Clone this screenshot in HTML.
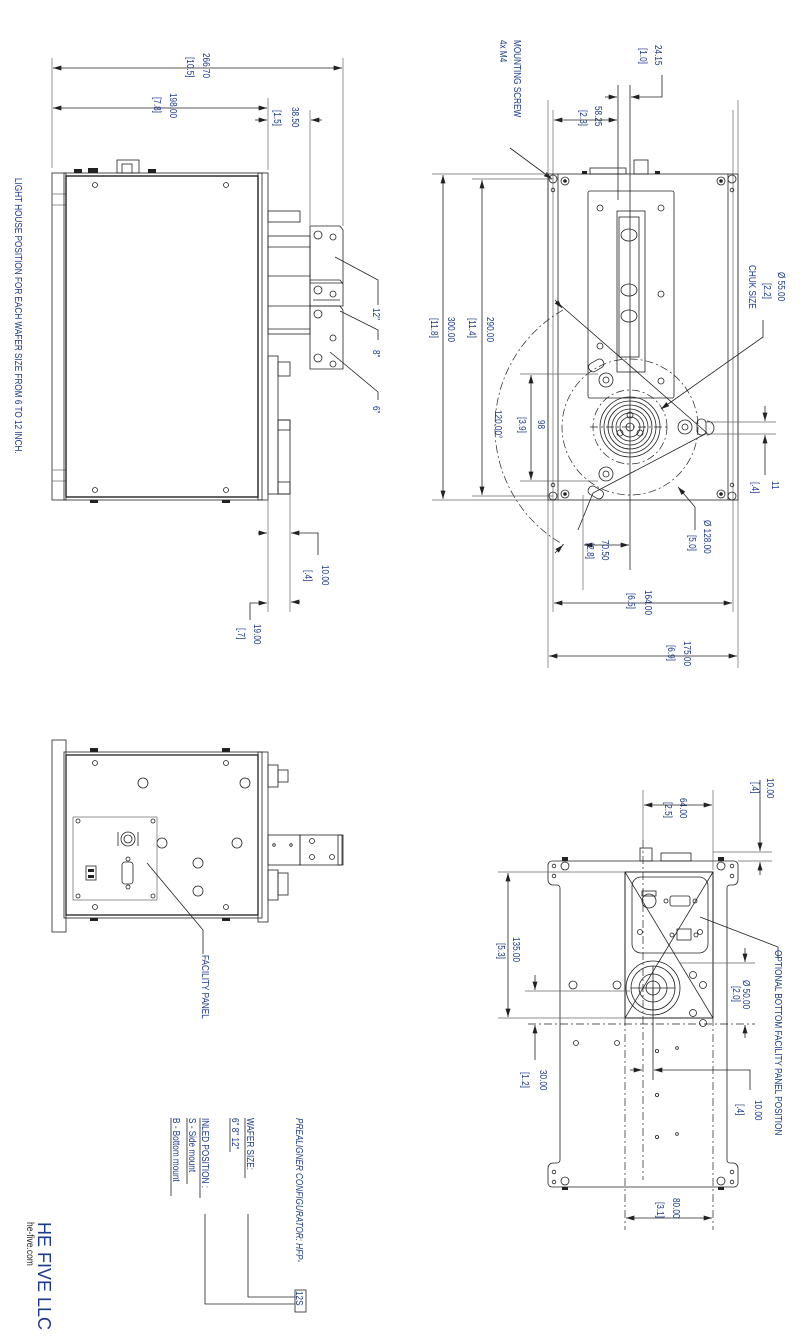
<!DOCTYPE html>
<html><head><meta charset="utf-8"><style>
html,body{margin:0;padding:0;background:#fff}
svg{display:block}
.l{stroke:#222;stroke-width:.8;fill:none}
.g{stroke:#666;stroke-width:.7;fill:none}
.d{stroke:#222;stroke-width:.7;fill:none;stroke-dasharray:8 3 2 3}
.k{fill:#222}
text{font-family:"Liberation Sans",sans-serif;font-size:10px;fill:#1b3a8a}
</style></head><body>
<svg width="809" height="1339" viewBox="0 0 809 1339" xmlns="http://www.w3.org/2000/svg">
<defs>
<marker id="a" viewBox="0 0 10 6" refX="10" refY="3" markerWidth="9" markerHeight="5" orient="auto-start-reverse" markerUnits="userSpaceOnUse"><path d="M0,0L10,3L0,6z" fill="#222"/></marker>
</defs>

<!-- ===== LEFT TOP VIEW ===== -->
<text transform="translate(15,178) rotate(90) scale(.82,1)">LIGHT HOUSE POSITION FOR EACH WAFER SIZE FROM 6 TO 12 INCH.</text>
<rect class="l" x="52" y="173" width="14" height="327"/>
<line class="g" x1="52" y1="194" x2="66" y2="194"/><line class="g" x1="52" y1="205" x2="66" y2="205"/>
<line class="g" x1="52" y1="470" x2="66" y2="470"/><line class="g" x1="52" y1="481" x2="66" y2="481"/>
<rect class="l" x="66" y="176" width="192" height="321" style="stroke-width:1.4"/>
<rect class="l" x="64" y="173" width="198" height="327"/>
<rect class="l" x="258" y="173" width="10" height="327"/>
<circle class="l" cx="95" cy="185" r="2.5"/><circle class="l" cx="226" cy="185" r="2.5"/>
<circle class="l" cx="95" cy="490" r="2.5"/><circle class="l" cx="226" cy="490" r="2.5"/>
<rect class="k" x="74" y="169" width="8" height="4"/><rect class="k" x="88" y="168" width="10" height="5"/><rect class="k" x="148" y="169" width="8" height="4"/>
<rect class="l" x="117" y="160" width="22" height="13"/><rect class="l" x="122" y="164" width="10" height="9"/>
<rect class="k" x="90" y="500" width="8" height="3"/><rect class="k" x="222" y="500" width="8" height="3"/>
<!-- light houses -->
<rect class="l" x="268" y="211" width="32" height="11"/>
<line class="l" x1="268" y1="247" x2="310" y2="247"/><line class="l" x1="268" y1="276" x2="310" y2="276"/>
<line class="l" x1="268" y1="306" x2="310" y2="306"/><line class="l" x1="268" y1="329" x2="310" y2="329"/>
<rect class="l" x="268" y="236" width="42" height="98"/>
<path class="l" d="M310,226H340L343,230V283H310Z"/>
<path class="l" d="M310,280H340L343,284V306H310Z"/>
<path class="l" d="M310,306H340L343,310V369H310Z"/>
<circle class="l" cx="318" cy="235" r="4"/><circle class="l" cx="333" cy="237" r="3"/>
<circle class="l" cx="318" cy="290" r="4"/><circle class="l" cx="333" cy="294" r="3"/>
<circle class="l" cx="318" cy="314" r="4"/><circle class="l" cx="333" cy="338" r="3"/>
<circle class="l" cx="333" cy="364" r="3"/><circle class="l" cx="318" cy="358" r="4"/>
<line class="l" x1="313" y1="300" x2="340" y2="300"/>
<polyline class="l" points="335,257 378,280 378,305"/>
<polyline class="l" points="340,311 378,330 378,340"/>
<polyline class="l" points="330,352 378,392 378,400"/>
<text transform="translate(373,308) rotate(90) scale(.82,1)">12"</text>
<text transform="translate(373,350) rotate(90) scale(.82,1)">8"</text>
<text transform="translate(373,406) rotate(90) scale(.82,1)">6"</text>
<rect class="l" x="268" y="356" width="10" height="138"/><rect class="l" x="278" y="362" width="12" height="14"/>
<rect class="l" x="278" y="420" width="12" height="74"/><rect class="l" x="278" y="420" width="12" height="10"/><rect class="l" x="278" y="482" width="12" height="12"/>
<!-- dims -->
<line class="g" x1="52" y1="58" x2="52" y2="168"/><line class="g" x1="343" y1="58" x2="343" y2="226"/>
<line class="l" x1="53" y1="68" x2="342" y2="68" marker-start="url(#a)" marker-end="url(#a)"/>
<text transform="translate(203,53) rotate(90) scale(.82,1)">266.70</text>
<text transform="translate(187,57) rotate(90) scale(.82,1)">[10.5]</text>
<line class="g" x1="268" y1="98" x2="268" y2="170"/>
<line class="l" x1="53" y1="108" x2="267" y2="108" marker-start="url(#a)" marker-end="url(#a)"/>
<text transform="translate(170,93) rotate(90) scale(.82,1)">198.00</text>
<text transform="translate(154,97) rotate(90) scale(.82,1)">[7.8]</text>
<line class="g" x1="310" y1="110" x2="310" y2="225"/>
<line class="l" x1="255" y1="120" x2="267" y2="120" marker-end="url(#a)"/>
<line class="l" x1="322" y1="120" x2="311" y2="120" marker-end="url(#a)"/>
<text transform="translate(292,107) rotate(90) scale(.82,1)">38.50</text>
<text transform="translate(274,110) rotate(90) scale(.82,1)">[1.5]</text>
<line class="g" x1="268" y1="500" x2="268" y2="612"/><line class="g" x1="290" y1="494" x2="290" y2="612"/>
<line class="l" x1="258" y1="533" x2="267" y2="533" marker-end="url(#a)"/>
<polyline class="l" points="318,555 318,533 291,533" marker-end="url(#a)"/>
<line class="l" x1="300" y1="602" x2="291" y2="602" marker-end="url(#a)"/>
<text transform="translate(322,565) rotate(90) scale(.82,1)">10.00</text>
<text transform="translate(305,570) rotate(90) scale(.82,1)">[.4]</text>
<polyline class="l" points="250,620 250,603 267,603" marker-end="url(#a)"/>
<text transform="translate(254,624) rotate(90) scale(.82,1)">19.00</text>
<text transform="translate(238,628) rotate(90) scale(.82,1)">[.7]</text>

<!-- ===== RIGHT TOP VIEW ===== -->
<text transform="translate(514,40) rotate(90) scale(.82,1)">MOUNTING SCREW</text>
<text transform="translate(500,40) rotate(90) scale(.82,1)">4x M4</text>
<line class="l" x1="510" y1="148" x2="552" y2="179" marker-end="url(#a)"/>
<line class="g" x1="548" y1="100" x2="548" y2="668"/><line class="g" x1="738" y1="100" x2="738" y2="668"/>
<line class="g" x1="553" y1="110" x2="553" y2="612"/><line class="g" x1="733" y1="110" x2="733" y2="612"/>
<rect class="l" x="548" y="174" width="190" height="326"/>
<line class="l" x1="558" y1="174" x2="558" y2="500"/><line class="l" x1="728" y1="174" x2="728" y2="500"/>
<g class="l">
<circle cx="553" cy="179" r="4"/><circle cx="565" cy="181" r="4"/><circle cx="721" cy="181" r="4"/><circle cx="732" cy="179" r="4"/>
<circle cx="553" cy="496" r="4"/><circle cx="565" cy="494" r="4"/><circle cx="721" cy="494" r="4"/><circle cx="732" cy="496" r="4"/>
<circle cx="553" cy="190" r="1.8"/><circle cx="732" cy="190" r="1.8"/><circle cx="553" cy="485" r="1.8"/><circle cx="732" cy="485" r="1.8"/>
</g>
<circle class="k" cx="565" cy="181" r="1.8"/><circle class="k" cx="721" cy="181" r="1.8"/><circle class="k" cx="565" cy="494" r="1.8"/><circle class="k" cx="721" cy="494" r="1.8"/>
<rect class="l" x="590" y="168" width="36" height="6"/><rect class="l" x="634" y="160" width="14" height="14"/>
<rect class="k" x="582" y="171" width="5" height="3"/><rect class="k" x="655" y="171" width="5" height="3"/>
<rect class="l" x="588" y="191" width="86" height="207" rx="2"/>
<rect class="l" x="617" y="211" width="28" height="161"/>
<rect class="l" x="619" y="217" width="20" height="140"/>
<ellipse class="l" cx="629" cy="235" rx="8" ry="6"/><ellipse class="l" cx="629" cy="290" rx="8" ry="6"/><ellipse class="l" cx="629" cy="316" rx="8" ry="6"/>
<g class="l"><circle cx="600" cy="208" r="3"/><circle cx="661" cy="208" r="3"/><circle cx="661" cy="294" r="3"/><circle cx="600" cy="346" r="3"/><circle cx="661" cy="381" r="3"/></g>
<circle class="d" cx="630" cy="427" r="68"/>
<circle class="l" cx="630" cy="427" r="30"/><circle class="l" cx="630" cy="427" r="26"/><circle class="l" cx="630" cy="427" r="22"/><circle class="l" cx="630" cy="427" r="18"/><circle class="l" cx="630" cy="427" r="14"/><circle class="l" cx="630" cy="427" r="10"/>
<circle class="d" cx="630" cy="427" r="37"/>
<circle class="l" cx="630" cy="427" r="4"/><circle class="l" cx="630" cy="415" r="3"/><circle class="l" cx="620" cy="433" r="3"/><circle class="l" cx="640" cy="433" r="3"/>
<g class="l"><circle cx="606" cy="380" r="7"/><circle cx="606" cy="380" r="3"/><circle cx="606" cy="474" r="7"/><circle cx="606" cy="474" r="3"/><circle cx="685" cy="427" r="7"/><circle cx="685" cy="427" r="3"/></g>
<g class="l"><rect x="588" y="361" width="16" height="9" rx="4" transform="rotate(-30 596 365)"/><rect x="588" y="488" width="16" height="9" rx="4" transform="rotate(30 596 492)"/><rect x="697" y="419" width="9" height="16" rx="4"/></g>
<path class="l" d="M558,303L707,433L593,493L578,530"/>
<path class="l" d="M707,421A7,7 0 0 1 707,435"/>
<line class="d" x1="590" y1="427" x2="670" y2="427"/>
<line class="l" x1="630" y1="85" x2="630" y2="570"/>
<line class="l" x1="618" y1="85" x2="618" y2="200"/>
<path class="d" d="M563,310A135,135 0 0 0 564,545"/>
<line class="l" x1="555" y1="300" x2="562" y2="308" marker-end="url(#a)"/>
<line class="l" x1="555" y1="553" x2="563" y2="545" marker-end="url(#a)"/>
<text transform="translate(495,410) rotate(90) scale(.82,1)">120.00°</text>
<!-- 300 / 290 / 98 -->
<line class="g" x1="432" y1="174" x2="548" y2="174"/><line class="g" x1="432" y1="500" x2="548" y2="500"/>
<line class="l" x1="443" y1="175" x2="443" y2="499" marker-start="url(#a)" marker-end="url(#a)"/>
<text transform="translate(448,317) rotate(90) scale(.82,1)">300.00</text>
<text transform="translate(431,318) rotate(90) scale(.82,1)">[11.8]</text>
<line class="g" x1="472" y1="179" x2="553" y2="179"/><line class="g" x1="472" y1="496" x2="553" y2="496"/>
<line class="l" x1="482" y1="180" x2="482" y2="495" marker-start="url(#a)" marker-end="url(#a)"/>
<text transform="translate(487,317) rotate(90) scale(.82,1)">290.00</text>
<text transform="translate(469,318) rotate(90) scale(.82,1)">[11.4]</text>
<line class="g" x1="520" y1="374" x2="598" y2="374"/><line class="g" x1="520" y1="481" x2="598" y2="481"/>
<line class="l" x1="531" y1="375" x2="531" y2="480" marker-start="url(#a)" marker-end="url(#a)"/>
<text transform="translate(538,420) rotate(90) scale(.82,1)">98</text>
<text transform="translate(519,417) rotate(90) scale(.82,1)">[3.9]</text>
<!-- chuck -->
<polyline class="l" points="763,320 763,337 661,409" marker-end="url(#a)"/>
<text transform="translate(778,272) rotate(90) scale(.82,1)">Ø 55.00</text>
<text transform="translate(764,283) rotate(90) scale(.82,1)">[2.2]</text>
<text transform="translate(749,265) rotate(90) scale(.82,1)">CHUK SIZE</text>
<line class="g" x1="705" y1="422" x2="776" y2="422"/><line class="g" x1="705" y1="434" x2="776" y2="434"/>
<line class="l" x1="765" y1="406" x2="765" y2="421" marker-end="url(#a)"/>
<line class="l" x1="765" y1="475" x2="765" y2="435" marker-end="url(#a)"/>
<text transform="translate(772,481) rotate(90) scale(.82,1)">11</text>
<text transform="translate(752,482) rotate(90) scale(.82,1)">[.4]</text>
<polyline class="l" points="695,530 695,507 678,487" marker-end="url(#a)"/>
<text transform="translate(704,520) rotate(90) scale(.82,1)">Ø 128.00</text>
<text transform="translate(689,535) rotate(90) scale(.82,1)">[5.0]</text>
<!-- top small dims -->
<line class="l" x1="605" y1="97" x2="617" y2="97" marker-end="url(#a)"/>
<polyline class="l" points="662,75 662,97 631,97" marker-end="url(#a)"/>
<text transform="translate(655,45) rotate(90) scale(.82,1)">24.15</text>
<text transform="translate(640,48) rotate(90) scale(.82,1)">[1.0]</text>
<line class="l" x1="575" y1="120" x2="554" y2="120" marker-end="url(#a)"/>
<line class="l" x1="575" y1="120" x2="617" y2="120" marker-end="url(#a)"/>
<text transform="translate(595,106) rotate(90) scale(.82,1)">58.25</text>
<text transform="translate(580,110) rotate(90) scale(.82,1)">[2.3]</text>
<!-- bottom dims -->
<line class="g" x1="583" y1="495" x2="583" y2="590"/>
<line class="l" x1="584" y1="545" x2="629" y2="545" marker-start="url(#a)" marker-end="url(#a)"/>
<text transform="translate(602,540) rotate(90) scale(.82,1)">70.50</text>
<text transform="translate(587,543) rotate(90) scale(.82,1)">[2.8]</text>
<line class="l" x1="554" y1="603" x2="732" y2="603" marker-start="url(#a)" marker-end="url(#a)"/>
<text transform="translate(645,590) rotate(90) scale(.82,1)">164.00</text>
<text transform="translate(628,593) rotate(90) scale(.82,1)">[6.5]</text>
<line class="l" x1="549" y1="656" x2="737" y2="656" marker-start="url(#a)" marker-end="url(#a)"/>
<text transform="translate(684,641) rotate(90) scale(.82,1)">175.00</text>
<text transform="translate(668,645) rotate(90) scale(.82,1)">[6.9]</text>

<!-- ===== LEFT BOTTOM VIEW ===== -->
<rect class="l" x="52" y="740" width="14" height="192"/>
<rect class="l" x="64" y="752" width="198" height="166"/>
<rect class="l" x="66" y="755" width="192" height="160" style="stroke-width:1.3"/>
<rect class="l" x="258" y="752" width="10" height="170"/>
<g class="l"><circle cx="95" cy="763" r="2.5"/><circle cx="226" cy="763" r="2.5"/><circle cx="95" cy="907" r="2.5"/><circle cx="226" cy="907" r="2.5"/></g>
<rect class="k" x="90" y="748" width="8" height="4"/><rect class="k" x="222" y="748" width="8" height="4"/><rect class="k" x="90" y="918" width="8" height="3"/><rect class="k" x="222" y="918" width="8" height="3"/>
<rect class="l" x="268" y="765" width="10" height="22"/><rect class="l" x="278" y="770" width="10" height="12"/>
<rect class="l" x="268" y="870" width="10" height="30"/><rect class="l" x="278" y="873" width="10" height="22"/>
<rect class="l" x="268" y="835" width="32" height="30"/><rect class="l" x="300" y="835" width="42" height="30"/>
<rect class="l" x="338" y="835" width="5" height="30"/>
<circle class="l" cx="274" cy="845" r="1.3"/><circle class="l" cx="291" cy="845" r="1.3"/>
<circle class="l" cx="312" cy="841" r="2.5"/><circle class="l" cx="312" cy="857" r="2.5"/><circle class="l" cx="332" cy="857" r="2.5"/>
<g class="l"><circle cx="143" cy="783" r="5"/><circle cx="245" cy="783" r="5"/><circle cx="162" cy="843" r="5"/><circle cx="237" cy="843" r="5"/><circle cx="198" cy="863" r="5"/><circle cx="198" cy="891" r="5"/></g>
<rect class="g" x="73" y="817" width="84" height="83"/>
<g class="l"><circle cx="78" cy="821" r="2"/><circle cx="153" cy="821" r="2"/><circle cx="78" cy="896" r="2"/><circle cx="153" cy="896" r="2"/></g>
<circle class="l" cx="128" cy="839" r="7"/><circle class="l" cx="128" cy="839" r="4"/><line class="l" x1="118" y1="832" x2="118" y2="846"/><line class="l" x1="138" y1="832" x2="138" y2="846"/>
<rect class="l" x="122" y="862" width="11" height="22" rx="3"/><circle class="l" cx="128" cy="859" r="2"/><circle class="l" cx="128" cy="887" r="2"/>
<rect class="l" x="86" y="866" width="10" height="14"/><rect class="k" x="88" y="869" width="6" height="3"/><rect class="k" x="88" y="875" width="6" height="3"/>
<polyline class="l" points="147,863 203,930 203,954"/>
<text transform="translate(202,955) rotate(90) scale(.82,1)">FACILITY PANEL</text>

<!-- ===== RIGHT BOTTOM VIEW ===== -->
<path class="l" d="M552,861H734a4,4 0 0 1 4,4V880a5,5 0 0 1 -5,5H730a3,3 0 0 0 -3,3V1160a3,3 0 0 0 3,3H733a5,5 0 0 1 5,5V1183a4,4 0 0 1 -4,4H552a4,4 0 0 1 -4,-4V1168a5,5 0 0 1 5,-5H557a3,3 0 0 0 3,-3V888a3,3 0 0 0 -3,-3H553a5,5 0 0 1 -5,-5V865a4,4 0 0 1 4,-4z"/>
<g class="l"><circle cx="554" cy="866" r="1.8"/><circle cx="554" cy="876" r="1.8"/><circle cx="732" cy="866" r="1.8"/><circle cx="732" cy="876" r="1.8"/><circle cx="554" cy="1172" r="1.8"/><circle cx="554" cy="1182" r="1.8"/><circle cx="732" cy="1172" r="1.8"/><circle cx="732" cy="1182" r="1.8"/>
<circle cx="565" cy="866" r="4"/><circle cx="721" cy="866" r="4"/><circle cx="565" cy="1181" r="4"/><circle cx="721" cy="1181" r="4"/></g>
<rect class="k" x="562" y="857" width="6" height="4"/><rect class="k" x="718" y="857" width="6" height="4"/><rect class="k" x="562" y="1187" width="6" height="3"/><rect class="k" x="718" y="1187" width="6" height="3"/>
<rect class="l" x="640" y="848" width="12" height="13"/><rect class="l" x="661" y="853" width="30" height="8"/>
<rect class="l" x="625" y="872" width="88" height="146" style="stroke-width:1"/>
<rect class="l" x="632" y="877" width="76" height="76" rx="9"/>
<line class="l" x1="625" y1="872" x2="713" y2="1018"/><line class="l" x1="713" y1="872" x2="625" y2="1018"/>
<circle class="l" cx="649" cy="901" r="7"/><rect class="l" x="642" y="891" width="14" height="5"/>
<rect class="l" x="670" y="896" width="20" height="10" rx="2"/><circle class="l" cx="666" cy="901" r="2"/><circle class="l" cx="695" cy="901" r="2"/>
<rect class="l" x="677" y="929" width="14" height="11"/><circle class="l" cx="672" cy="935" r="2"/><circle class="l" cx="696" cy="935" r="2"/>
<circle class="l" cx="640" cy="932" r="2.5"/><circle class="l" cx="700" cy="932" r="2.5"/>
<circle class="l" cx="653" cy="988" r="27"/><circle class="l" cx="653" cy="988" r="22"/><circle class="l" cx="653" cy="988" r="14"/><circle class="l" cx="653" cy="988" r="7"/>
<line class="l" x1="631" y1="988" x2="675" y2="988"/><line class="l" x1="653" y1="966" x2="653" y2="1010"/>
<g class="l"><circle cx="573" cy="985" r="4"/><circle cx="617" cy="985" r="4"/><circle cx="693" cy="975" r="3.5"/><circle cx="703" cy="985" r="3.5"/><circle cx="693" cy="1013" r="3.5"/><circle cx="703" cy="1023" r="3.5"/>
<circle cx="576" cy="1043" r="2.5"/><circle cx="617" cy="1043" r="2.5"/><circle cx="657" cy="1051" r="1.6"/><circle cx="677" cy="1048" r="1.4"/><circle cx="657" cy="1095" r="1.6"/><circle cx="657" cy="1137" r="1.6"/><circle cx="677" cy="1134" r="1.4"/></g>
<line class="d" x1="643" y1="840" x2="643" y2="1180"/>
<line class="d" x1="625" y1="1018" x2="625" y2="1230"/><line class="d" x1="713" y1="1018" x2="713" y2="1230"/>
<line class="l" x1="653" y1="988" x2="653" y2="1080"/>
<!-- dims -->
<line class="g" x1="498" y1="872" x2="625" y2="872"/><line class="g" x1="498" y1="1018" x2="625" y2="1018"/>
<line class="l" x1="508" y1="873" x2="508" y2="1017" marker-start="url(#a)" marker-end="url(#a)"/>
<text transform="translate(513,937) rotate(90) scale(.82,1)">135.00</text>
<text transform="translate(498,943) rotate(90) scale(.82,1)">[5.3]</text>
<line class="g" x1="525" y1="991" x2="630" y2="991"/><line class="d" x1="528" y1="1024" x2="755" y2="1024"/>
<line class="l" x1="535" y1="975" x2="535" y2="990" marker-end="url(#a)"/>
<line class="l" x1="535" y1="1060" x2="535" y2="1025" marker-end="url(#a)"/>
<text transform="translate(540,1070) rotate(90) scale(.82,1)">30.00</text>
<text transform="translate(522,1072) rotate(90) scale(.82,1)">[1.2]</text>
<line class="g" x1="680" y1="963" x2="755" y2="963"/>
<line class="l" x1="745" y1="948" x2="745" y2="962" marker-end="url(#a)"/>
<line class="l" x1="745" y1="1038" x2="745" y2="1025" marker-end="url(#a)"/>
<text transform="translate(743,980) rotate(90) scale(.82,1)">Ø 50.00</text>
<text transform="translate(733,986) rotate(90) scale(.82,1)">[2.0]</text>
<line class="l" x1="630" y1="1070" x2="642" y2="1070" marker-end="url(#a)"/>
<polyline class="l" points="750,1090 750,1070 654,1070" marker-end="url(#a)"/>
<text transform="translate(755,1100) rotate(90) scale(.82,1)">10.00</text>
<text transform="translate(737,1104) rotate(90) scale(.82,1)">[.4]</text>
<polyline class="l" points="700,917 778,947 778,958"/>
<text transform="translate(775,950) rotate(90) scale(.82,1)">OPTIONAL BOTTOM FACILITY PANEL POSITION</text>
<line class="g" x1="643" y1="790" x2="643" y2="848"/><line class="g" x1="713" y1="790" x2="713" y2="870"/>
<line class="l" x1="644" y1="805" x2="712" y2="805" marker-start="url(#a)" marker-end="url(#a)"/>
<text transform="translate(680,798) rotate(90) scale(.82,1)">64.00</text>
<text transform="translate(665,802) rotate(90) scale(.82,1)">[2.5]</text>
<line class="g" x1="713" y1="852" x2="772" y2="852"/><line class="g" x1="738" y1="861" x2="772" y2="861"/>
<polyline class="l" points="760,780 760,851" marker-end="url(#a)"/>
<line class="l" x1="760" y1="875" x2="760" y2="862" marker-end="url(#a)"/>
<text transform="translate(767,778) rotate(90) scale(.82,1)">10.00</text>
<text transform="translate(752,782) rotate(90) scale(.82,1)">[.4]</text>
<line class="l" x1="626" y1="1218" x2="712" y2="1218" marker-start="url(#a)" marker-end="url(#a)"/>
<text transform="translate(673,1198) rotate(90) scale(.82,1)">80.00</text>
<text transform="translate(657,1202) rotate(90) scale(.82,1)">[3.1]</text>

<!-- ===== CONFIGURATOR ===== -->
<text transform="translate(296,1118) rotate(90) scale(.82,1)" style="font-style:italic">PREALIGNER CONFIGURATOR: HFP-</text>
<rect class="l" x="295" y="1290" width="11" height="22"/>
<text transform="translate(296,1291) rotate(90) scale(.82,1)">12S</text>
<text transform="translate(247,1118) rotate(90) scale(.82,1)">WAFER SIZE:</text>
<line class="l" x1="245" y1="1118" x2="245" y2="1178"/>
<text transform="translate(232,1118) rotate(90) scale(.82,1)">6" 8" 12"</text>
<line class="l" x1="230" y1="1118" x2="230" y2="1152"/>
<text transform="translate(202,1118) rotate(90) scale(.82,1)">INLED POSITION :</text>
<line class="l" x1="200" y1="1118" x2="200" y2="1198"/>
<text transform="translate(189,1118) rotate(90) scale(.82,1)">S - Side mount</text>
<line class="l" x1="187" y1="1118" x2="187" y2="1184"/>
<text transform="translate(173,1118) rotate(90) scale(.82,1)">B - Bottom mount</text>
<line class="l" x1="171" y1="1118" x2="171" y2="1196"/>
<polyline class="l" points="248,1214 248,1297 295,1297"/>
<polyline class="l" points="205,1214 205,1304 295,1304"/>
<text transform="translate(38,1222) rotate(90)" style="font-size:18px">HE FIVE LLC</text>
<text transform="translate(27,1222) rotate(90) scale(.85,1)" style="font-size:10px;fill:#222">he-five.com</text>
</svg>
</body></html>
